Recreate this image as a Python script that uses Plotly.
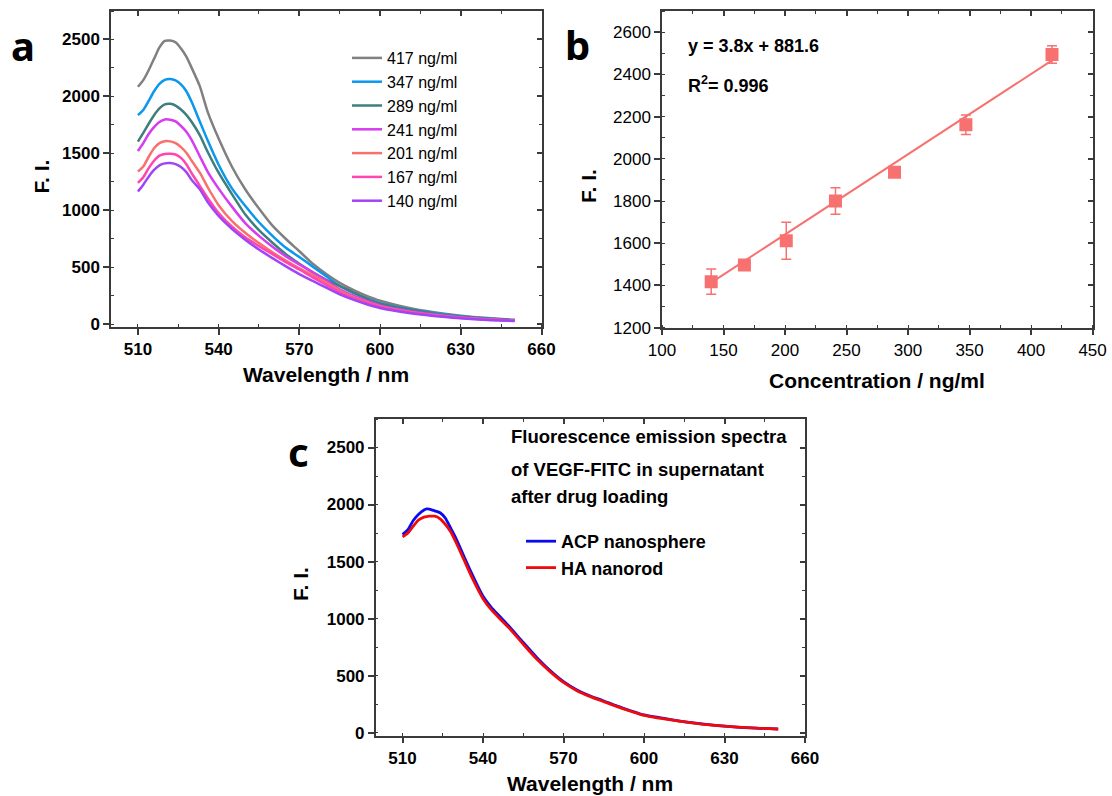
import plotly.graph_objects as go

W, H = 1112, 796

# ---------------- Data ----------------
wl_a = [510, 512, 514, 516, 518, 520, 522, 524, 526, 528, 530, 533, 536, 540, 545, 550, 555, 560,
        565, 570, 575, 580, 585, 590, 595, 600, 610, 620, 630, 640, 650]

conc_labels = ["417 ng/ml", "347 ng/ml", "289 ng/ml", "241 ng/ml", "201 ng/ml", "167 ng/ml", "140 ng/ml"]
conc_colors = ["#808080", "#0A97EE", "#3E7E7E", "#D63CF0", "#F8716E", "#FF45B0", "#A044F8"]

fi_417 = [2085, 2143, 2230, 2330, 2430, 2487, 2490, 2475, 2420, 2350, 2250, 2090, 1860, 1630, 1380, 1180,
          1015, 865, 748, 640, 530, 440, 362, 300, 248, 205, 146, 104, 74, 53, 38]
fi_347 = [1836, 1880, 1960, 2045, 2110, 2145, 2152, 2140, 2105, 2045, 1950, 1780, 1610, 1400, 1190, 1035,
          895, 775, 670, 590, 505, 420, 335, 275, 225, 185, 135, 97, 70, 50, 36]
fi_289 = [1603, 1680, 1760, 1835, 1895, 1930, 1935, 1920, 1885, 1838, 1775, 1660, 1510, 1330, 1140, 960,
          825, 715, 615, 530, 455, 390, 335, 280, 225, 180, 130, 92, 66, 47, 34]
fi_241 = [1520, 1590, 1670, 1730, 1775, 1798, 1795, 1780, 1740, 1690, 1617, 1475, 1335, 1190, 1030, 885,
          775, 680, 595, 525, 455, 385, 305, 250, 205, 165, 118, 85, 61, 44, 32]
fi_201 = [1340, 1385, 1470, 1545, 1590, 1607, 1605, 1590, 1555, 1505, 1435, 1330, 1200, 1045, 905, 800,
          712, 632, 558, 490, 430, 365, 295, 240, 195, 158, 112, 80, 57, 41, 30]
fi_167 = [1240, 1290, 1370, 1435, 1480, 1495, 1497, 1490, 1460, 1405, 1325, 1215, 1105, 975, 855, 760,
          685, 615, 545, 480, 410, 345, 280, 230, 188, 152, 108, 77, 55, 40, 30]
fi_140 = [1165, 1225, 1295, 1355, 1395, 1412, 1415, 1405, 1380, 1335, 1265, 1185, 1070, 950, 835, 740,
          655, 580, 508, 440, 380, 320, 262, 215, 175, 142, 100, 72, 52, 37, 28]
series_a = [fi_417, fi_347, fi_289, fi_241, fi_201, fi_167, fi_140]

# Panel b: calibration
conc_b = [140, 167, 201, 241, 289, 347, 417]
fi_b = [1418, 1497, 1612, 1800, 1936, 2161, 2494]
err_b = [60, 12, 88, 63, 12, 46, 42]
slope, intercept = 3.8, 881.6
fit_x = [140, 417]

# Panel c
wl_c = [510, 512, 514, 516, 518, 519, 520, 522, 524, 526, 528, 530, 533, 536, 540, 543, 546, 550, 555,
        560, 565, 570, 575, 580, 585, 590, 595, 600, 610, 620, 630, 640, 650]
fi_acp = [1737, 1780, 1860, 1915, 1952, 1962, 1960, 1945, 1928, 1880, 1790, 1700, 1540, 1385, 1195, 1100,
          1025, 925, 790, 660, 545, 448, 375, 322, 278, 232, 192, 155, 115, 82, 58, 42, 32]
fi_ha = [1716, 1750, 1810, 1865, 1890, 1895, 1898, 1898, 1875, 1825, 1760, 1665, 1510, 1355, 1175, 1080,
         1005, 910, 775, 645, 535, 440, 368, 316, 272, 228, 188, 152, 112, 80, 57, 41, 31]
c_labels = ["ACP nanosphere", "HA nanorod"]
c_colors = ["#0A0AF0", "#F00A0A"]

# ---------------- Helpers ----------------
def fx(px):
    return px / W

def fy(py):
    return 1 - py / H

FONT = "Liberation Sans, Arial, sans-serif"
AXC = "#3a3a3a"

dom = {
    "a": ([fx(111), fx(541.5)], [fy(327), fy(11)]),
    "b": ([fx(662), fx(1092.6)], [fy(327.7), fy(11)]),
    "c": ([fx(375.7), fx(805)], [fy(735.5), fy(419)]),
}

fig = go.Figure()

for lab, col, ys in zip(conc_labels, conc_colors, series_a):
    fig.add_trace(go.Scatter(x=wl_a, y=ys, mode="lines", name=lab,
                             line=dict(color=col, width=2.5, shape="spline", smoothing=0.6),
                             xaxis="x", yaxis="y", legend="legend"))

fig.add_trace(go.Scatter(x=fit_x, y=[slope * v + intercept for v in fit_x], mode="lines",
                         line=dict(color="#F87171", width=2), showlegend=False,
                         xaxis="x2", yaxis="y2"))
fig.add_trace(go.Scatter(x=conc_b, y=fi_b, mode="markers",
                         marker=dict(symbol="square", size=13, color="#F87171"),
                         error_y=dict(type="data", array=err_b, color="#F87171", thickness=1.5, width=5),
                         showlegend=False, xaxis="x2", yaxis="y2"))

for lab, col, ys in zip(c_labels, c_colors, [fi_acp, fi_ha]):
    fig.add_trace(go.Scatter(x=wl_c, y=ys, mode="lines", name=lab,
                             line=dict(color=col, width=2.8, shape="spline", smoothing=0.6),
                             xaxis="x3", yaxis="y3", legend="legend2"))

# empty helper traces so that the mirrored top/right frame axes (inward ticks) are drawn
for xa, ya in [("x4", "y4"), ("x5", "y5"), ("x6", "y6")]:
    fig.add_trace(go.Scatter(x=[None], y=[None], mode="lines", showlegend=False, hoverinfo="skip",
                             xaxis=xa, yaxis=ya))


def base_axis(rng, tick0, dtick, mtick, bold, dmn=None, anchor=None):
    d = dict(range=rng, tickmode="linear", tick0=tick0, dtick=dtick,
             ticks="outside", ticklen=6, tickwidth=1.5, tickcolor=AXC,
             showline=True, linewidth=1.5, linecolor=AXC, showgrid=False, zeroline=False,
             tickfont=dict(family=FONT, size=17, color="black", weight="bold" if bold else "normal"),
             minor=dict(ticks="inside", ticklen=3, tickwidth=1.2, tickcolor=AXC, dtick=mtick, tick0=tick0),
             fixedrange=True, automargin=False)
    if dmn is not None:
        d["domain"] = dmn
    if anchor is not None:
        d["anchor"] = anchor
    return d


def mirror_axis(rng, tick0, dtick, mtick, overlay, anchor, side):
    return dict(range=rng, tickmode="linear", tick0=tick0, dtick=dtick, overlaying=overlay,
                anchor=anchor, side=side, ticks="inside", ticklen=5, tickwidth=1.5, tickcolor=AXC,
                showticklabels=False, showline=True, linewidth=1.5, linecolor=AXC,
                showgrid=False, zeroline=False, fixedrange=True, automargin=False,
                minor=dict(ticks="inside", ticklen=3, tickwidth=1.2, tickcolor=AXC, dtick=mtick, tick0=tick0))

xr = [500, 660]
yr = [-25, 2750]
fig.update_layout(
    xaxis=base_axis(xr, 510, 30, 15, True, dom["a"][0], "y"),
    yaxis=base_axis(yr, 0, 500, 250, True, dom["a"][1], "x"),
    xaxis2=base_axis([100, 450], 100, 50, 25, False, dom["b"][0], "y2"),
    yaxis2=base_axis([1200, 2700], 1200, 200, 100, False, dom["b"][1], "x2"),
    xaxis3=base_axis(xr, 510, 30, 15, True, dom["c"][0], "y3"),
    yaxis3=base_axis(yr, 0, 500, 250, True, dom["c"][1], "x3"),
    xaxis4=mirror_axis(xr, 510, 30, 15, "x", "y", "top"),
    yaxis4=mirror_axis(yr, 0, 500, 250, "y", "x", "right"),
    xaxis5=mirror_axis([100, 450], 100, 50, 25, "x2", "y2", "top"),
    yaxis5=mirror_axis([1200, 2700], 1200, 200, 100, "y2", "x2", "right"),
    xaxis6=mirror_axis(xr, 510, 30, 15, "x3", "y3", "top"),
    yaxis6=mirror_axis(yr, 0, 500, 250, "y3", "x3", "right"),
)

ann = []
TFONT = dict(family=FONT, size=21, color="black")
# axis titles
ann.append(dict(text="<b>Wavelength / nm</b>", x=fx(326), y=fy(374), font=TFONT))
ann.append(dict(text="<b>Concentration / ng/ml</b>", x=fx(877), y=fy(381), font=TFONT))
ann.append(dict(text="<b>Wavelength / nm</b>", x=fx(590), y=fy(783), font=TFONT))
ann.append(dict(text="<b>F. I.</b>", x=fx(40.5), y=fy(177), textangle=-90, font=TFONT))
ann.append(dict(text="<b>F. I.</b>", x=fx(588), y=fy(186), textangle=-90, font=TFONT))
ann.append(dict(text="<b>F. I.</b>", x=fx(300), y=fy(584), textangle=-90, font=TFONT))
# panel letters
LFONT = dict(family="Noto Sans, Open Sans, sans-serif", size=40, color="black")
ann.append(dict(text="<b>a</b>", x=fx(23), y=fy(46), font=LFONT))
ann.append(dict(text="<b>b</b>", x=fx(577), y=fy(45), font=LFONT))
ann.append(dict(text="<b>c</b>", x=fx(298), y=fy(451), font=LFONT))
# panel b equation
EFONT = dict(family=FONT, size=18, color="black")
ann.append(dict(text="<b>y = 3.8x + 881.6</b>", x=fx(686), y=fy(46.5), xanchor="left", font=EFONT))
ann.append(dict(text="<b>R<sup>2</sup>= 0.996</b>", x=fx(686), y=fy(84), xanchor="left", font=EFONT))
# panel c description
CFONT = dict(family=FONT, size=18.5, color="black")
ann.append(dict(text="<b>Fluorescence emission spectra</b>", x=fx(508.5), y=fy(436), xanchor="left", font=CFONT))
ann.append(dict(text="<b>of VEGF-FITC in supernatant</b>", x=fx(508.5), y=fy(470), xanchor="left", font=CFONT))
ann.append(dict(text="<b>after drug loading</b>", x=fx(508.5), y=fy(496), xanchor="left", font=CFONT))

for a in ann:
    a.setdefault("xanchor", "center")
    a.update(xref="paper", yref="paper", yanchor="middle", showarrow=False)

fig.update_layout(
    annotations=ann,
    width=W, height=H, autosize=False,
    margin=dict(l=0, r=0, t=0, b=0, pad=0),
    paper_bgcolor="white", plot_bgcolor="white",
    font=dict(family=FONT, color="black"),
    legend=dict(x=fx(347), y=fy(41), xanchor="left", yanchor="top",
                font=dict(family=FONT, size=16, color="black"), bgcolor="rgba(0,0,0,0)",
                tracegroupgap=0, borderwidth=0),
    legend2=dict(x=fx(521), y=fy(523), xanchor="left", yanchor="top",
                 font=dict(family=FONT, size=18, color="black", weight="bold"), bgcolor="rgba(0,0,0,0)",
                 tracegroupgap=0, borderwidth=0),
)

fig.write_html("out.html", config={"displayModeBar": False},
               post_script="document.body.style.margin='0px';document.body.style.padding='0px';")
